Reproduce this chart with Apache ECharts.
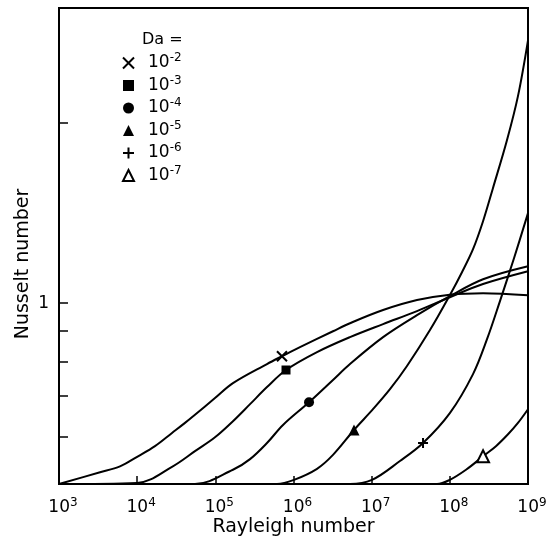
<!DOCTYPE html>
<html>
<head>
<meta charset="utf-8">
<script src="https://cdn.jsdelivr.net/npm/echarts@6/dist/echarts.min.js"></script>
<style>
  html, body { margin: 0; padding: 0; background: #fff; }
  #main { width: 547px; height: 536px; }
</style>
</head>
<body>
<div id="main"></div>
<script>
// Nusselt number vs Rayleigh number, one curve per Darcy number
var daExp = ['-2', '-3', '-4', '-5', '-6', '-7'];

var ra2 = [1e3, 3.35e3, 6.03e3, 1.025e4, 1.69e4, 2.79e4, 4.09e4, 5.49e4, 9.9e4, 1.68e5, 4.58e5, 7.12e5, 1.21e6, 3.2e6, 5.28e6, 1.4e7, 3.8e7, 1.0e8, 2.66e8, 1e9];
var nu2 = [0.5, 0.523, 0.535, 0.556, 0.578, 0.608, 0.632, 0.652, 0.695, 0.736, 0.792, 0.816, 0.845, 0.898, 0.926, 0.974, 1.012, 1.033, 1.039, 1.031];

var ra3 = [1e3, 1e4, 2.79e4, 5.49e4, 9.9e4, 1.68e5, 2.78e5, 4.58e5, 8.02e5, 2.0e6, 5.28e6, 1.4e7, 3.8e7, 1.0e8, 2.66e8, 1e9];
var nu3 = [0.5, 0.502, 0.534, 0.567, 0.598, 0.636, 0.679, 0.725, 0.774, 0.829, 0.878, 0.923, 0.970, 1.023, 1.076, 1.130];

var ra4 = [1e3, 5.49e4, 1.68e5, 2.78e5, 4.58e5, 7.34e5, 1.58e6, 3.2e6, 5.28e6, 1.4e7, 3.8e7, 1.0e8, 2.66e8, 1e9];
var nu4 = [0.5, 0.5, 0.528, 0.550, 0.585, 0.627, 0.684, 0.745, 0.792, 0.878, 0.955, 1.027, 1.096, 1.152];

var ra5 = [1e3, 6.15e5, 1.015e6, 2.0e6, 3.2e6, 5.94e6, 1.04e7, 1.715e7, 2.83e7, 5.57e7, 1.0e8, 1.43e8, 1.98e8, 2.66e8, 3.56e8, 5.38e8, 7.44e8, 1e9];
var nu5 = [0.5, 0.5, 0.508, 0.530, 0.559, 0.615, 0.666, 0.719, 0.786, 0.902, 1.031, 1.126, 1.230, 1.369, 1.554, 1.867, 2.211, 2.739];

var ra6 = [1e3, 5.28e6, 1.01e7, 2.3e7, 4.54e7, 1.0e8, 1.98e8, 2.99e8, 4.38e8, 6.62e8, 1e9];
var nu6 = [0.5, 0.5, 0.508, 0.546, 0.585, 0.656, 0.762, 0.871, 1.008, 1.188, 1.412];

var ra7 = [1e3, 6.85e7, 1.0e8, 1.61e8, 2.66e8, 3.89e8, 5.55e8, 7.44e8, 1e9];
var nu7 = [0.5, 0.5, 0.508, 0.528, 0.556, 0.578, 0.605, 0.632, 0.666];

// one marker on each curve
var markRa = [7.12e5, 8.02e5, 1.58e6, 5.94e6, 4.54e7, 2.66e8];
var markNu = [0.816, 0.774, 0.684, 0.615, 0.585, 0.556];

var xTickExp = [3, 4, 5, 6, 7, 8, 9];
var yTicks = [0.6, 0.7, 0.8, 0.9, 1, 2];
var yLabels = [1];
var yMin = 0.5, yMax = 3.1;

var FONT = 'DejaVu Sans';
var curvesRa = [ra2, ra3, ra4, ra5, ra6, ra7];
var curvesNu = [nu2, nu3, nu4, nu5, nu6, nu7];
var symbols = ['path://M0,0L10,10M10,0L0,10', 'rect', 'circle', 'triangle', 'path://M5,0L5,10M0,5L10,5', 'triangle'];
var symSize = [10, 9, 10, 11, 10, 12];
var names = daExp.map(function (e) { return 'Da 1e' + e; });

function lg(v) { return Math.log10(v); }

var series = [];
curvesRa.forEach(function (ra, i) {
    series.push({
        name: 'curve' + i,
        type: 'line',
        data: ra.map(function (r, j) { return [lg(r), lg(curvesNu[i][j])]; }),
        showSymbol: false,
        symbol: 'none',
        smooth: 0.35,
        lineStyle: {color: '#000', width: 2},
        silent: true
    });
});
names.forEach(function (n, i) {
    var stroked = (i === 0 || i === 4);
    var hollow = (i === 5);
    series.push({
        name: n,
        type: 'scatter',
        data: [[lg(markRa[i]), lg(markNu[i])]],
        symbol: symbols[i],
        symbolSize: symSize[i],
        itemStyle: {
            color: stroked ? 'transparent' : (hollow ? '#fff' : '#000'),
            borderColor: '#000',
            borderWidth: (stroked || hollow) ? 2 : 0,
            opacity: 1
        },
        z: 5
    });
});

var myChart = echarts.init(document.getElementById('main'));
myChart.setOption({
    animation: false,
    title: {
        text: 'Da =',
        left: 137, top: 27,
        textStyle: {fontFamily: FONT, fontSize: 16, fontWeight: 'normal', color: '#000'}
    },
    legend: {
        orient: 'vertical',
        left: 117, top: 47,
        itemWidth: 11, itemHeight: 11,
        itemGap: 3,
        data: names,
        formatter: function (name) {
            return '{sp|}{b|10}{s|' + daExp[names.indexOf(name)] + '}';
        },
        textStyle: {
            rich: {
                sp: {width: 9},
                b: {fontFamily: FONT, fontSize: 17, color: '#000'},
                s: {fontFamily: FONT, fontSize: 12, color: '#000', padding: [0, 0, 10, 0]}
            }
        }
    },
    grid: {
        left: 59, right: 19, top: 8, bottom: 52,
        outerBoundsMode: 'none',
        show: true, borderColor: '#000', borderWidth: 2
    },
    xAxis: {
        type: 'value',
        min: 3, max: 9, interval: 1,
        name: 'Rayleigh number',
        nameLocation: 'middle',
        nameGap: 34,
        nameMoveOverlap: false,
        nameTextStyle: {fontFamily: FONT, fontSize: 19, color: '#000'},
        axisLine: {onZero: false, lineStyle: {color: '#000', width: 2}},
        axisTick: {inside: true, length: 8, lineStyle: {color: '#000', width: 1.5}},
        splitLine: {show: false},
        axisLabel: {
            margin: 13,
            formatter: function (v) {
                return xTickExp.indexOf(v) < 0 ? '' : '{sp|}{b|10}{s|' + v + '}';
            },
            rich: {
                sp: {width: 8},
                b: {fontFamily: FONT, fontSize: 17, color: '#000'},
                s: {fontFamily: FONT, fontSize: 12, color: '#000', padding: [0, 0, 10, 0]}
            }
        }
    },
    yAxis: {
        type: 'value',
        min: lg(yMin), max: lg(yMax),
        name: 'Nusselt number',
        nameLocation: 'middle',
        nameGap: 26,
        nameMoveOverlap: false,
        nameTextStyle: {fontFamily: FONT, fontSize: 19, color: '#000', padding: [0, 36, 0, 0]},
        axisLine: {onZero: false, lineStyle: {color: '#000', width: 2}},
        axisTick: {inside: true, length: 9, customValues: yTicks.map(lg), lineStyle: {color: '#000', width: 1.5}},
        splitLine: {show: false},
        axisLabel: {
            customValues: yLabels.map(lg),
            margin: 10,
            fontFamily: FONT, fontSize: 17, color: '#000',
            formatter: function (v) { return String(Math.round(Math.pow(10, v) * 100) / 100); }
        }
    },
    series: series
});
</script>
</body>
</html>
